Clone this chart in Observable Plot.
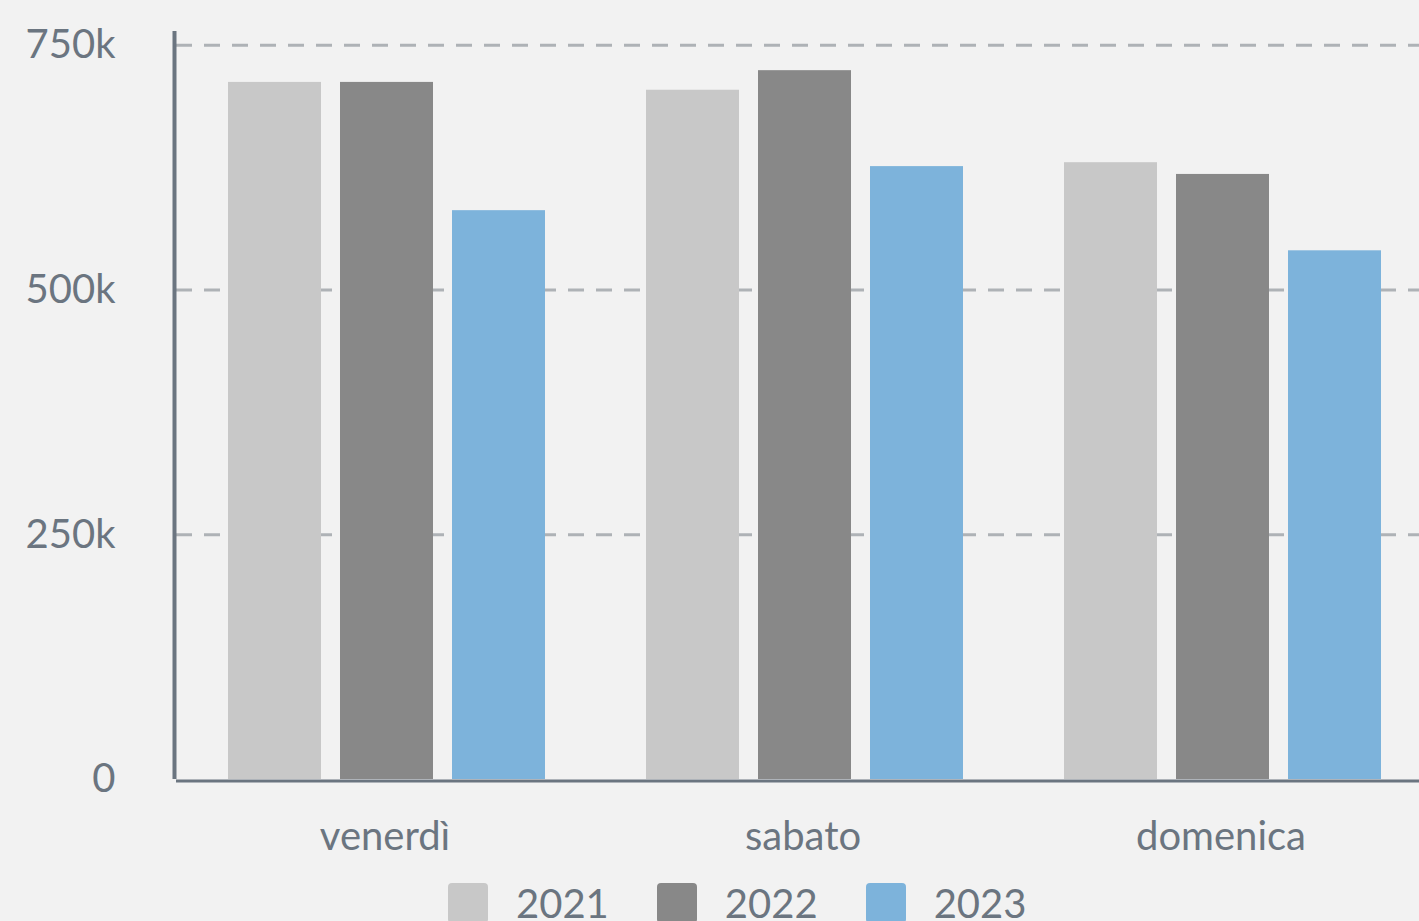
<!DOCTYPE html>
<html>
<head>
<meta charset="utf-8">
<script src="https://cdn.jsdelivr.net/npm/d3@7"></script>
<script src="https://cdn.jsdelivr.net/npm/@observablehq/plot@0.6"></script>
<style>
  html, body { margin: 0; padding: 0; background: #f2f2f2; overflow: hidden; }
  #wrap { position: relative; width: 1433px; height: 921px; }
  #bg, #fg { position: absolute; left: 0; top: 0; }
  #legend { position: absolute; left: 448px; top: 879px; }
  #legend .lg-swatches { font-family: Lato, sans-serif; font-size: 40px; color: #6b7580; margin: 0; }
  #legend .lg-swatch { margin-right: 48px; }
  #legend .lg-swatch > svg { margin-right: 28px; }
  #legend svg rect { rx: 4px; ry: 4px; }
</style>
</head>
<body>
<div id="wrap">
  <div id="bg"></div>
  <div id="fg"></div>
  <div id="legend"></div>
</div>
<script>
const days = ["venerdì", "sabato", "domenica"];
const years = ["2021", "2022", "2023"];
const values2021 = [712000, 704000, 630000];
const values2022 = [712000, 724000, 618000];
const values2023 = [581000, 626000, 540000];
const yTicks = [0, 250000, 500000, 750000];
const yearColors = ["#c8c8c8", "#888888", "#7db3db"];

const series = [values2021, values2022, values2023];
const data = days.flatMap((day, i) =>
  years.map((year, j) => ({ day, year, value: series[j][i] }))
);

const W = 1433, H = 870;
const common = {
  width: W, height: H,
  marginLeft: 176, marginRight: 0, marginTop: 31, marginBottom: 91,
  style: { background: "transparent", fontFamily: "Lato, sans-serif", fontSize: "40px", color: "#6b7580", overflow: "visible" }
};
const yDomain = [0, 764000];
const axisColor = "#6b7580";

const bg = Plot.plot({
  ...common,
  x: { domain: [0, 1], axis: null },
  y: {
    domain: yDomain, ticks: yTicks, label: null,
    tickFormat: d => d === 0 ? "0" : (d / 1000) + "k",
    tickSize: 0, tickPadding: 61
  },
  marks: [
    Plot.ruleY(yTicks.filter(d => d > 0), { stroke: "#aeb2b6", strokeWidth: 3, strokeDasharray: "16,12" }),
    Plot.ruleY([0], { stroke: axisColor, strokeWidth: 3, dy: 1.5 }),
    Plot.ruleX([0], { stroke: axisColor, strokeWidth: 4, dx: -2 })
  ]
});
document.getElementById("bg").appendChild(bg);

const fg = Plot.plot({
  ...common,
  fx: { domain: days, paddingInner: 0.242, paddingOuter: 0.124, label: null },
  x: { domain: years, paddingInner: 0.17, paddingOuter: 0, axis: null },
  y: { domain: yDomain, axis: null },
  color: { domain: years, range: yearColors },
  marks: [
    Plot.barY(data, { fx: "day", x: "year", y: "value", fill: "year" }),
    Plot.axisFx({ anchor: "bottom", tickSize: 0, tickPadding: 42, label: null, dx: -2 })
  ]
});
document.getElementById("fg").appendChild(fg);

const legend = Plot.legend({
  color: { domain: years, range: yearColors },
  legend: "swatches",
  swatchSize: 40,
  className: "lg"
});
document.getElementById("legend").appendChild(legend);
</script>
</body>
</html>
